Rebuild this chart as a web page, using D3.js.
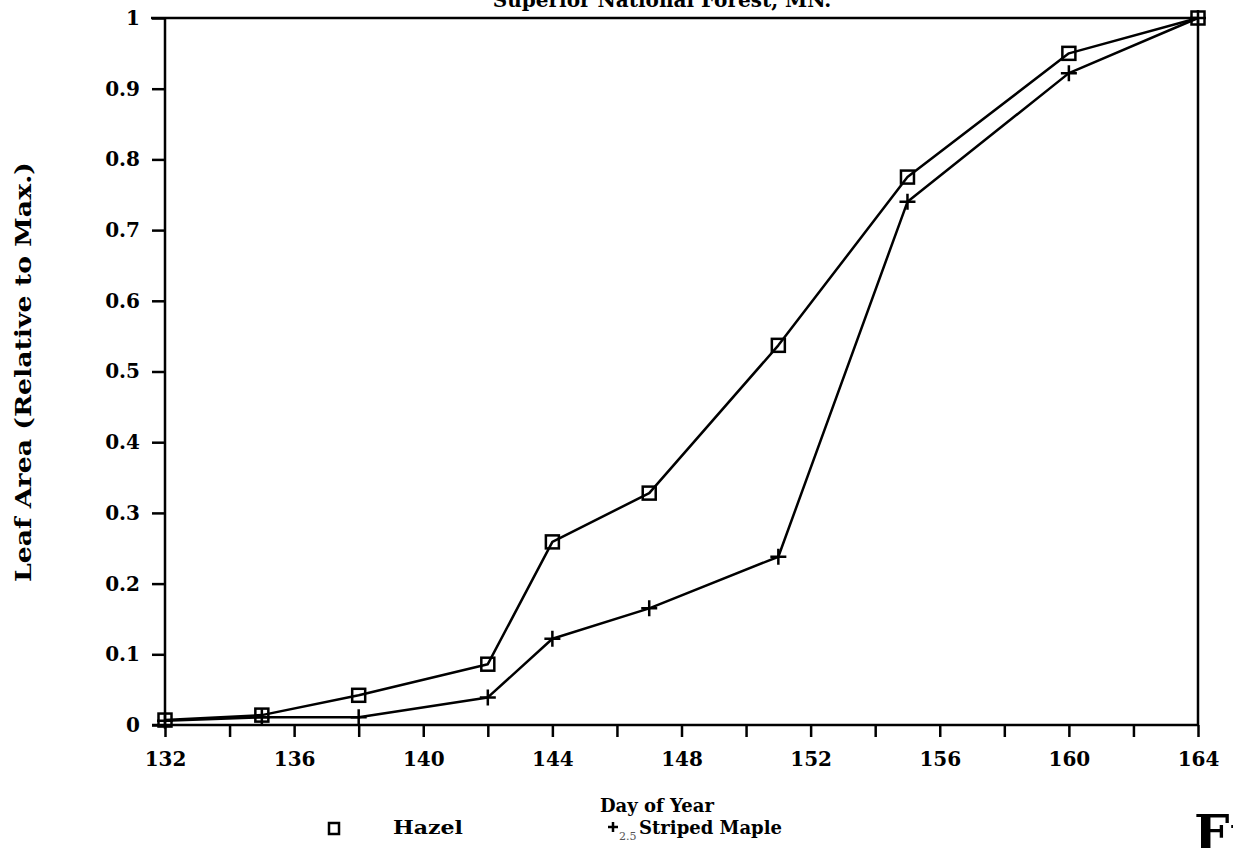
<!DOCTYPE html>
<html><head><meta charset="utf-8">
<script src="https://cdn.jsdelivr.net/npm/d3@7"></script>
<style>body{margin:0;background:#fff}svg{display:block}</style>
</head><body>
<svg id="c" width="1233" height="848"></svg>
<script>
// ---- data ----
const days  = [132, 135, 138, 142, 144, 147, 151, 155, 160, 164];
const hazel = [0.007, 0.014, 0.042, 0.086, 0.259, 0.328, 0.537, 0.775, 0.950, 1.0];
const maple = [0.006, 0.011, 0.011, 0.039, 0.122, 0.165, 0.238, 0.740, 0.922, 1.0];
const xTickValues = [132,134,136,138,140,142,144,146,148,150,152,154,156,158,160,162,164];
const xTickLabels = [132,136,140,144,148,152,156,160,164];
const yTickValues = [0,0.1,0.2,0.3,0.4,0.5,0.6,0.7,0.8,0.9,1];
const yTickLabels = ["0","0.1","0.2","0.3","0.4","0.5","0.6","0.7","0.8","0.9","1"];
const titleText = "Superior National Forest, MN.";
const xTitle = "Day of Year";
const yTitle = "Leaf Area (Relative to Max.)";
const seriesNames = ["Hazel", "Striped Maple"];

const FONT = "'DejaVu Serif', serif";
const svg = d3.select("#c");
const L = 165, R = 1198, T = 18, B = 725;
const x = d3.scaleLinear().domain([132,164]).range([L,R]);
const y = d3.scaleLinear().domain([0,1]).range([B,T]);

// title (cut at the top edge in the scan)
svg.append("text").attr("x",662).attr("y",7).attr("text-anchor","middle")
  .attr("font-family",FONT).attr("font-weight","bold").attr("font-size",20).text(titleText);

// frame: top and right
svg.append("line").attr("x1",L-14).attr("x2",R).attr("y1",T).attr("y2",T).attr("stroke","#000").attr("stroke-width",2.5);
svg.append("line").attr("x1",R).attr("x2",R).attr("y1",T).attr("y2",B).attr("stroke","#000").attr("stroke-width",2.5);

// x axis
const xAxis = d3.axisBottom(x).tickValues(xTickValues).tickSize(12).tickPadding(15)
  .tickFormat(d => xTickLabels.includes(d) ? String(d) : "");
const gx = svg.append("g").attr("transform",`translate(0,${B})`).call(xAxis);
gx.select(".domain").remove();
gx.append("line").attr("x1",L-13).attr("x2",R).attr("y1",0).attr("y2",0).attr("stroke","#000").attr("stroke-width",2.5);
gx.selectAll(".tick line").attr("stroke","#000").attr("stroke-width",2.5);
gx.selectAll(".tick text").attr("font-family",FONT).attr("font-weight","bold").attr("font-size",20).attr("fill","#000");

// y axis
const yAxis = d3.axisLeft(y).tickValues(yTickValues).tickSize(13).tickPadding(12)
  .tickFormat((d,i) => yTickLabels[i]);
const gy = svg.append("g").attr("transform",`translate(${L},0)`).call(yAxis);
gy.select(".domain").remove();
gy.append("line").attr("x1",0).attr("x2",0).attr("y1",T).attr("y2",B).attr("stroke","#000").attr("stroke-width",2.5);
gy.selectAll(".tick line").attr("stroke","#000").attr("stroke-width",2.5);
gy.selectAll(".tick text").attr("font-family",FONT).attr("font-weight","bold").attr("font-size",20).attr("fill","#000");

// axis titles
svg.append("text").attr("x",600).attr("y",812)
  .attr("font-family",FONT).attr("font-weight","bold").attr("font-size",18).text(xTitle);
svg.append("text").attr("transform","translate(31,372) rotate(-90)").attr("text-anchor","middle")
  .attr("font-family",FONT).attr("font-weight","bold").attr("font-size",22)
  .attr("textLength",420).attr("lengthAdjust","spacingAndGlyphs").text(yTitle);

// lines
const line = d3.line().x((d,i)=>x(days[i])).y(d=>y(d));
[hazel, maple].forEach(s => {
  svg.append("path").attr("d",line(s)).attr("fill","none").attr("stroke","#000")
    .attr("stroke-width",2.5).attr("stroke-linejoin","round");
});

// markers
const sq = 13;
svg.append("g").selectAll("rect").data(hazel).join("rect")
  .attr("x",(d,i)=>x(days[i])-sq/2).attr("y",d=>y(d)-sq/2).attr("width",sq).attr("height",sq)
  .attr("fill","none").attr("stroke","#000").attr("stroke-width",2.5);
const pl = 8;
svg.append("g").selectAll("path").data(maple).join("path")
  .attr("d",(d,i)=>{const cx=x(days[i]), cy=y(d); return `M${cx-pl},${cy}H${cx+pl}M${cx},${cy-pl}V${cy+pl}`;})
  .attr("stroke","#000").attr("stroke-width",2.5);

// legend
const lg = svg.append("g");
lg.append("rect").attr("x",329).attr("y",823).attr("width",10).attr("height",11)
  .attr("fill","none").attr("stroke","#000").attr("stroke-width",2.5);
lg.append("text").attr("x",393).attr("y",834).attr("font-family",FONT).attr("font-weight","bold")
  .attr("font-size",18).attr("textLength",70).attr("lengthAdjust","spacingAndGlyphs").text(seriesNames[0]);
lg.append("path").attr("d","M608,827H618M613,822V832").attr("stroke","#000").attr("stroke-width",2.5);
lg.append("text").attr("x",619).attr("y",840).attr("font-family",FONT).attr("font-size",11)
  .attr("fill","#555").text("2.5");
lg.append("text").attr("x",639).attr("y",834).attr("font-family",FONT).attr("font-weight","bold")
  .attr("font-size",18).text(seriesNames[1]);

// page-caption fragment at the bottom right of the scan
svg.append("text").attr("x",1194).attr("y",851).attr("font-family",FONT).attr("font-weight","bold")
  .attr("font-size",50).text("Fig");
</script>
</body></html>
